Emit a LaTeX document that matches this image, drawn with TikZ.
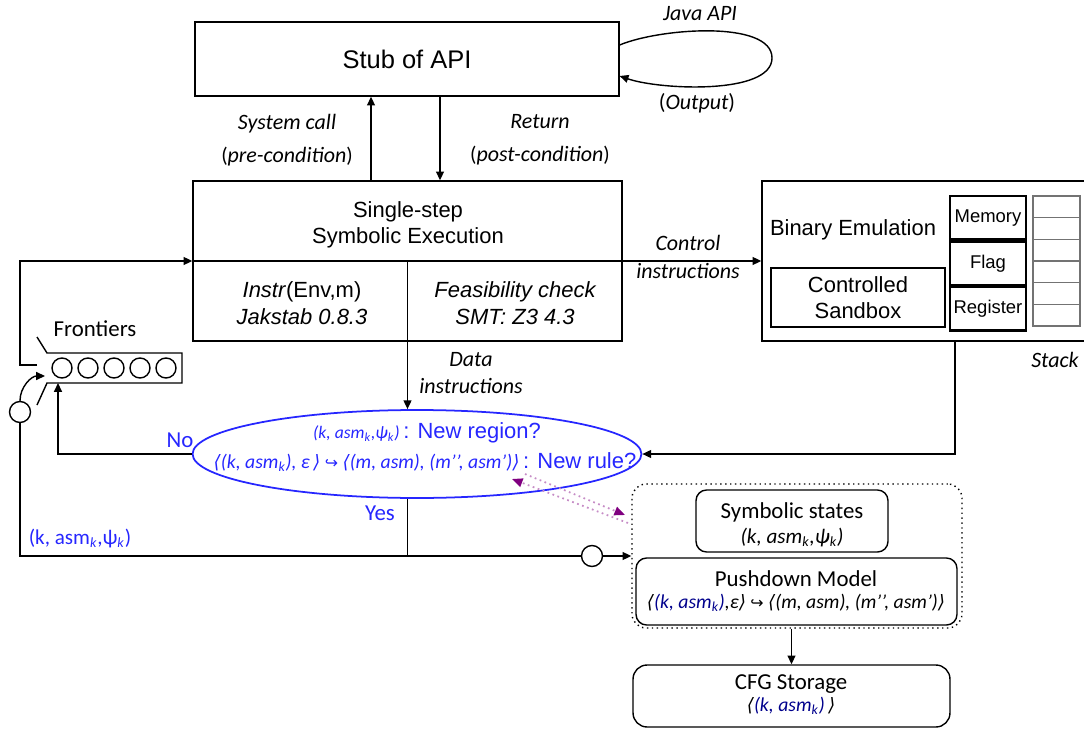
\documentclass[tikz,border=0pt]{standalone}
\usepackage{fontspec}
\setmainfont{Liberation Sans}
\newfontfamily\calfont{Carlito}
\newfontfamily\symfont{DejaVu Sans}
\usepackage{xcolor}
\colorlet{QueryBlue}{blue!85!white}
\colorlet{StateBlue}{blue!55!black}
\definecolor{RulePurple}{RGB}{128,0,128}
\colorlet{RuleDots}{RulePurple!45}
\colorlet{StackGrey}{black!55}
\usetikzlibrary{arrows.meta, shapes.geometric, positioning}

\newcommand{\AngL}{{\symfont\fontsize{10.5}{12}\selectfont ⟨}}
\newcommand{\AngR}{{\symfont\fontsize{10.5}{12}\selectfont ⟩}}
\newcommand{\HookTo}{{\symfont\upshape\fontsize{9}{11}\selectfont ↪}}
\newcommand{\subk}{\textsubscript{\itshape k}}

\begin{document}
\begin{tikzpicture}[x=0.02cm, y=-0.02cm, line width=0.8pt,
    >={Triangle[length=5pt, width=4.5pt]},
    box/.style={draw, rectangle, inner sep=0pt},
    rbox/.style={draw, rectangle, rounded corners=6pt, inner sep=0pt},
    ar/.style={font=\fontsize{12.5}{15}\selectfont, align=center},
    lbl/.style={font=\calfont\itshape\fontsize{12.5}{18.7}\selectfont, align=center},
    cal/.style={font=\calfont\fontsize{13}{16}\selectfont},
    frm/.style={font=\calfont\itshape\fontsize{11.2}{13}\selectfont},
    regcell/.style={box, line width=1.3pt, minimum width=1.52cm, minimum height=0.867cm,
        font=\fontsize{10.5}{12}\selectfont},
    dot/.style={circle, draw, minimum size=0.42cm, inner sep=0pt}]

\useasboundingbox (0,0) rectangle (1084,729);

% API stub
\node[box, minimum width=8.48cm, minimum height=1.48cm,
    font=\fontsize{14.5}{17}\selectfont] (stub) at (407,59) {Stub of API};
\draw[->] ([yshift=0.28cm]stub.east) .. controls (660,28) and (772,20) .. (772,58)
    .. controls (772,95) and (660,90) .. ([yshift=-0.34cm]stub.east);
\node[lbl] (java) at (700,14) {Java API};
\node[lbl] (outp) at (697,103) {{\upshape(}Output{\upshape)}};

% single-step symbolic execution
\node[box, minimum width=8.58cm, minimum height=3.2cm] (sse) at (407.5,261) {};
\draw (sse.west) -- (sse.east);
\draw (sse.center) -- (sse.south);
\node[ar] (ssetitle) at (408,225) {Single-step\\Symbolic Execution};
\node[ar] (instr) at (302,303) {\textit{Instr}(Env,m)\\\textit{Jakstab 0.8.3}};
\node[ar, font=\itshape\fontsize{12.5}{15}\selectfont] (feas) at (515,303) {Feasibility check\\SMT: Z3 4.3};

\coordinate (callx) at (371,0);
\coordinate (retx) at (440,0);
\draw[->] (sse.north -| callx) -- (stub.south -| callx);
\draw[->] (stub.south -| retx) -- (sse.north -| retx);
\node[lbl] (calllbl) at (287,140) {System call\\{\upshape\large(}pre-condition{\upshape\large)}};
\node[lbl] (retlbl) at (540,140) {Return\\{\upshape\large(}post-condition{\upshape\large)}};

% binary emulation
\node[box, minimum width=6.48cm, minimum height=3.2cm] (emu) at (924,261) {};
\node[ar] (emutitle) at (853,230) {Binary Emulation};
\node[box, ar, minimum width=3.48cm, minimum height=1.18cm] (sbx) at (858,297.5) {Controlled\\Sandbox};
\node[regcell] (mem) at (988,217.7) {Memory};
\node[regcell] (flag) [below=0pt of mem] {Flag};
\node[regcell] (reg) [below=0pt of flag] {Register};
\foreach \i in {1,...,6}
    \node[box, draw=StackGrey, minimum width=0.94cm, minimum height=0.4333cm]
        (stk\i) at (1056.5,185.17+21.67*\i) {};
\node[lbl] (stacklbl) at (1055,360) {Stack};

\draw[->] (sse.east) -- (emu.west);
\node[lbl, font=\calfont\itshape\fontsize{12.5}{16}\selectfont] (ctrl) at (688,257) {Control\\instructions};

% frontier queue
\draw (37,337) -- (47,353) -- (182,353) -- (182,383) -- (47,383) -- (37,405);
\foreach \i in {1,...,5}
    \node[circle, draw, minimum size=0.4cm, inner sep=0pt] (f\i) at (36+26*\i,368) {};
\node[cal] (front) at (95,329) {Frontiers};
\coordinate (fout) at (37,365);
\coordinate (fin) at (45,376);
\coordinate (noin) at (58,383);
\draw[->] (fout) -- ++(-17,0) |- (sse.west);
\node[dot] (inc) at (20,412) {};
\draw[->] (inc.north) to[out=90, in=180] (fin);

% region / rule query
\node[ellipse, draw=QueryBlue, line width=1pt, minimum width=8.98cm, minimum height=1.76cm,
    inner sep=0pt] (check) at (417,454) {};
\draw[->] (sse.south) -- (sse.south |- check.north);
\node[lbl, font=\calfont\itshape\fontsize{12.5}{15.3}\selectfont] (data) at (471,373) {Data\\instructions};
\node[text=QueryBlue, font=\fontsize{12.5}{15}\selectfont] (q1) at (427,433)
    {{\calfont\itshape\fontsize{10}{12}\selectfont (k, asm\subk,ψ\subk)}\,: New region?};
\node[text=QueryBlue, font=\fontsize{12.5}{15}\selectfont] (q2) at (425,462)
    {{\calfont\itshape\fontsize{11.2}{13}\selectfont \AngL(k, asm\subk), ε\,\AngR\ \HookTo\
    \AngL(m, asm), (m’’, asm’)\AngR}\,: New rule?};
\draw[->] (check.west) -| (noin);
\node[cal, text=QueryBlue] (no) at (180,440) {No};
\node[cal, text=QueryBlue] (yes) at (380,513) {Yes};

\coordinate (emux) at (955,0);
\draw[->] (emu.south -| emux) |- (check.east);

% knowledge base
\node[rbox, dotted, rounded corners=8pt, minimum width=6.6cm, minimum height=2.88cm] (kb) at (797,556) {};
\node[rbox, minimum width=3.84cm, minimum height=1.24cm] (sym) at (792,521) {};
\node[cal] (symtitle) at (792,512) {Symbolic states};
\node[frm, font=\calfont\itshape\fontsize{12}{14}\selectfont] (symform) at (792,537) {(k, asm\subk,ψ\subk)};
\node[rbox, minimum width=6.42cm, minimum height=1.34cm] (pds) at (796.5,591.5) {};
\node[cal] (pdstitle) at (796,579) {Pushdown Model};
\node[frm] (pdsform) at (796,603)
    {\AngL{\color{StateBlue}(k, asm\subk)},ε\AngR\ \HookTo\ \AngL(m, asm), (m’’, asm’)\AngR};
\node[rbox, rounded corners=8pt, minimum width=6.34cm, minimum height=1.24cm] (cfg) at (791.5,696) {};
\node[cal] (cfgtitle) at (791,684) {CFG Storage};
\node[frm] (cfgform) at (791,706) {\AngL{\color{StateBlue}(k, asm\subk)}\,\AngR};
\draw[->] (kb.south -| cfg.north) -- (cfg.north);

% yes branch
\node[dot] (join) at (592,556) {};
\draw (inc.south) |- (join.west);
\draw (sse.south |- check.south) -- (sse.south |- join);
\draw[->] (join.east) -- (kb.west);
\node[text=QueryBlue, font=\calfont\fontsize{12}{14}\selectfont] (klbl) at (80,538) {(k, asm\subk,ψ\subk)};

% rule lookup
\coordinate (r1a) at (525,474);
\coordinate (r1b) at (625,515);
\coordinate (r2a) at (628,523);
\coordinate (r2b) at (512,479);
\draw[RuleDots, dotted, line width=1pt, -{Triangle[length=6pt, width=5pt, color=RulePurple]}] (r1a) -- (r1b);
\draw[RuleDots, dotted, line width=1pt, -{Triangle[length=6pt, width=5pt, color=RulePurple]}] (r2a) -- (r2b);

\end{tikzpicture}
\end{document}
